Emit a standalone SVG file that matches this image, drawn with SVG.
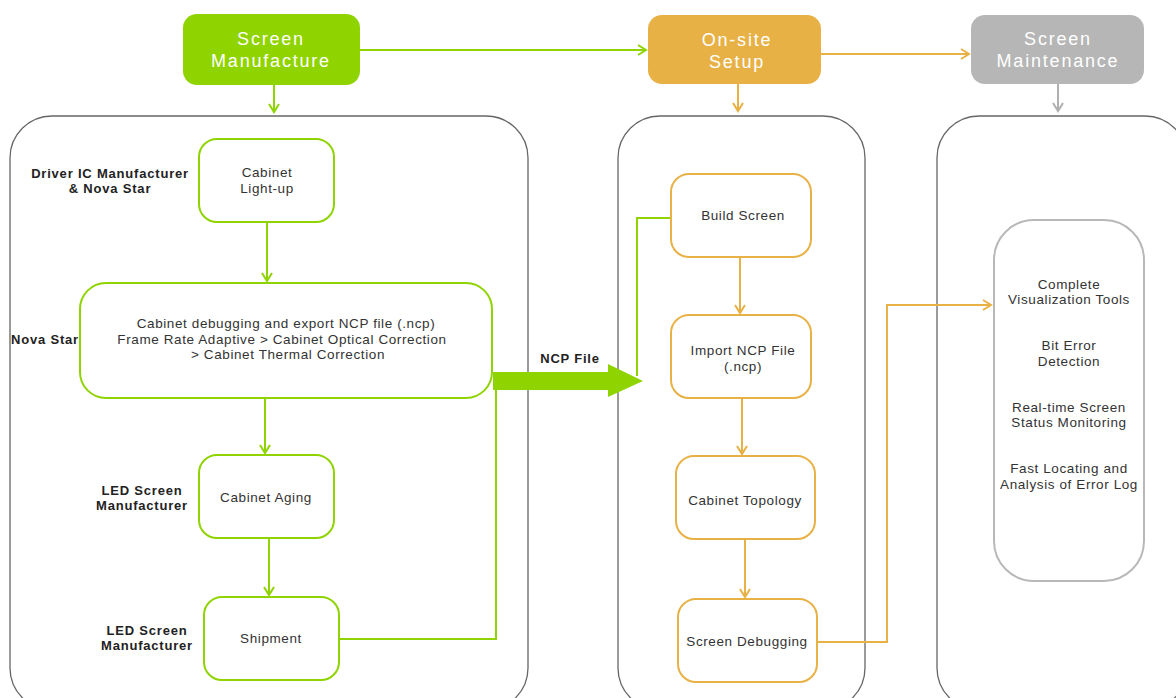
<svg xmlns="http://www.w3.org/2000/svg" width="1176" height="698" viewBox="0 0 1176 698">
<style>
.hdr{font-family:"Liberation Sans",Arial,sans-serif;font-size:18px;fill:#fff;text-anchor:middle;letter-spacing:1.8px}
.t{font-family:"Liberation Sans",Arial,sans-serif;font-size:13.5px;fill:#333;text-anchor:middle;letter-spacing:0.6px}
.lb{font-family:"Liberation Sans",Arial,sans-serif;font-size:13px;font-weight:bold;fill:#222;text-anchor:middle;letter-spacing:0.8px}
.cont{fill:#fff;stroke:#666;stroke-width:1.3}
.gn{fill:#fff;stroke:#8fd400;stroke-width:2}
.on{fill:#fff;stroke:#e8b146;stroke-width:2}
.gy{fill:#fff;stroke:#b8b8b8;stroke-width:2}
.cg{fill:none;stroke:#8fd400;stroke-width:2}
.co{fill:none;stroke:#e8b146;stroke-width:2}
.cy{fill:none;stroke:#b0b0b0;stroke-width:2}
</style>
<defs>
<marker id="ag" markerWidth="12" markerHeight="12" refX="10" refY="6" orient="auto" markerUnits="userSpaceOnUse"><path d="M2,1 L10,6 L2,11" fill="none" stroke="#8fd400" stroke-width="2"/></marker>
<marker id="ao" markerWidth="12" markerHeight="12" refX="10" refY="6" orient="auto" markerUnits="userSpaceOnUse"><path d="M2,1 L10,6 L2,11" fill="none" stroke="#e8b146" stroke-width="2"/></marker>
<marker id="ay" markerWidth="12" markerHeight="12" refX="10" refY="6" orient="auto" markerUnits="userSpaceOnUse"><path d="M2,1 L10,6 L2,11" fill="none" stroke="#b0b0b0" stroke-width="2"/></marker>
</defs>
<rect width="1176" height="698" fill="#fff"/>

<g id="containers">
<rect class="cont" x="10" y="116" width="518" height="594" rx="42"/>
<rect class="cont" x="618" y="116" width="247" height="594" rx="42"/>
<rect class="cont" x="937" y="116" width="250" height="594" rx="42"/>
</g>

<g id="connectors">
<path class="cg" d="M360,50 H646" marker-end="url(#ag)"/>
<path class="co" d="M821,54 H969" marker-end="url(#ao)"/>
<path class="cg" d="M274,85 V112" marker-end="url(#ag)"/>
<path class="co" d="M738,84 V111" marker-end="url(#ao)"/>
<path class="cy" d="M1058,84 V111" marker-end="url(#ay)"/>
<path class="cg" d="M267,222 V281" marker-end="url(#ag)"/>
<path class="cg" d="M265,398 V453" marker-end="url(#ag)"/>
<path class="cg" d="M269,538 V595" marker-end="url(#ag)"/>
<path class="cg" d="M339,639 H496 V390"/>
<path class="cg" d="M671,218 H637 V376"/>
<path d="M493,372 H608 V364 L643,381 L608,397 V390 H493 Z" fill="#8fd400"/>
<path class="co" d="M740,257 V313" marker-end="url(#ao)"/>
<path class="co" d="M742,398 V454" marker-end="url(#ao)"/>
<path class="co" d="M745,539 V597" marker-end="url(#ao)"/>
<path class="co" d="M817,642 H887 V305 H991" marker-end="url(#ao)"/>
<text class="lb" x="570" y="363" font-size="14">NCP File</text>
</g>

<g id="h-manufacture">
<rect x="183" y="14" width="177" height="71" rx="14" fill="#8fd400"/>
<text class="hdr" x="271" y="45">Screen</text>
<text class="hdr" x="271" y="67">Manufacture</text>
</g>
<g id="h-setup">
<rect x="648" y="15" width="173" height="69" rx="14" fill="#e8b146"/>
<text class="hdr" x="737" y="46">On-site</text>
<text class="hdr" x="737" y="68">Setup</text>
</g>
<g id="h-maint">
<rect x="971" y="15" width="173" height="69" rx="14" fill="#b5b6b5"/>
<text class="hdr" x="1058" y="45">Screen</text>
<text class="hdr" x="1058" y="67">Maintenance</text>
</g>

<g id="lbl-1">
<text class="lb" x="110" y="178">Driver IC Manufacturer</text>
<text class="lb" x="110" y="193">&amp; Nova Star</text>
</g>
<g id="lbl-2"><text class="lb" x="45" y="344" letter-spacing="0.4">Nova Star</text></g>
<g id="lbl-3">
<text class="lb" x="142" y="495">LED Screen</text>
<text class="lb" x="142" y="510">Manufacturer</text>
</g>
<g id="lbl-4">
<text class="lb" x="147" y="635">LED Screen</text>
<text class="lb" x="147" y="650">Manufacturer</text>
</g>

<g id="n-lightup">
<rect class="gn" x="199" y="139" width="135" height="83" rx="18"/>
<text class="t" x="267" y="177">Cabinet</text>
<text class="t" x="267" y="193">Light-up</text>
</g>
<g id="n-debug">
<rect class="gn" x="80" y="283" width="412" height="115" rx="26"/>
<text class="t" x="286" y="328">Cabinet debugging and export NCP file (.ncp)</text>
<text class="t" x="282" y="344">Frame Rate Adaptive &gt; Cabinet Optical Correction</text>
<text class="t" x="288" y="359">&gt; Cabinet Thermal Correction</text>
</g>
<g id="n-aging">
<rect class="gn" x="199" y="455" width="135" height="83" rx="18"/>
<text class="t" x="266" y="502">Cabinet Aging</text>
</g>
<g id="n-ship">
<rect class="gn" x="204" y="597" width="135" height="83" rx="18"/>
<text class="t" x="271" y="643">Shipment</text>
</g>

<g id="n-build">
<rect class="on" x="671" y="174" width="140" height="83" rx="18"/>
<text class="t" x="743" y="220">Build Screen</text>
</g>
<g id="n-import">
<rect class="on" x="671" y="315" width="140" height="83" rx="18"/>
<text class="t" x="743" y="355">Import NCP File</text>
<text class="t" x="743" y="371">(.ncp)</text>
</g>
<g id="n-topo">
<rect class="on" x="676" y="456" width="139" height="83" rx="18"/>
<text class="t" x="745" y="505">Cabinet Topology</text>
</g>
<g id="n-sdebug">
<rect class="on" x="678" y="599" width="139" height="83" rx="18"/>
<text class="t" x="747" y="646">Screen Debugging</text>
</g>

<g id="n-maint">
<rect class="gy" x="994" y="220" width="150" height="361" rx="40"/>
<text class="t" x="1069" y="289">Complete</text>
<text class="t" x="1069" y="304">Visualization Tools</text>
<text class="t" x="1069" y="350">Bit Error</text>
<text class="t" x="1069" y="366">Detection</text>
<text class="t" x="1069" y="412">Real-time Screen</text>
<text class="t" x="1069" y="427">Status Monitoring</text>
<text class="t" x="1069" y="473">Fast Locating and</text>
<text class="t" x="1069" y="489">Analysis of Error Log</text>
</g>
</svg>
